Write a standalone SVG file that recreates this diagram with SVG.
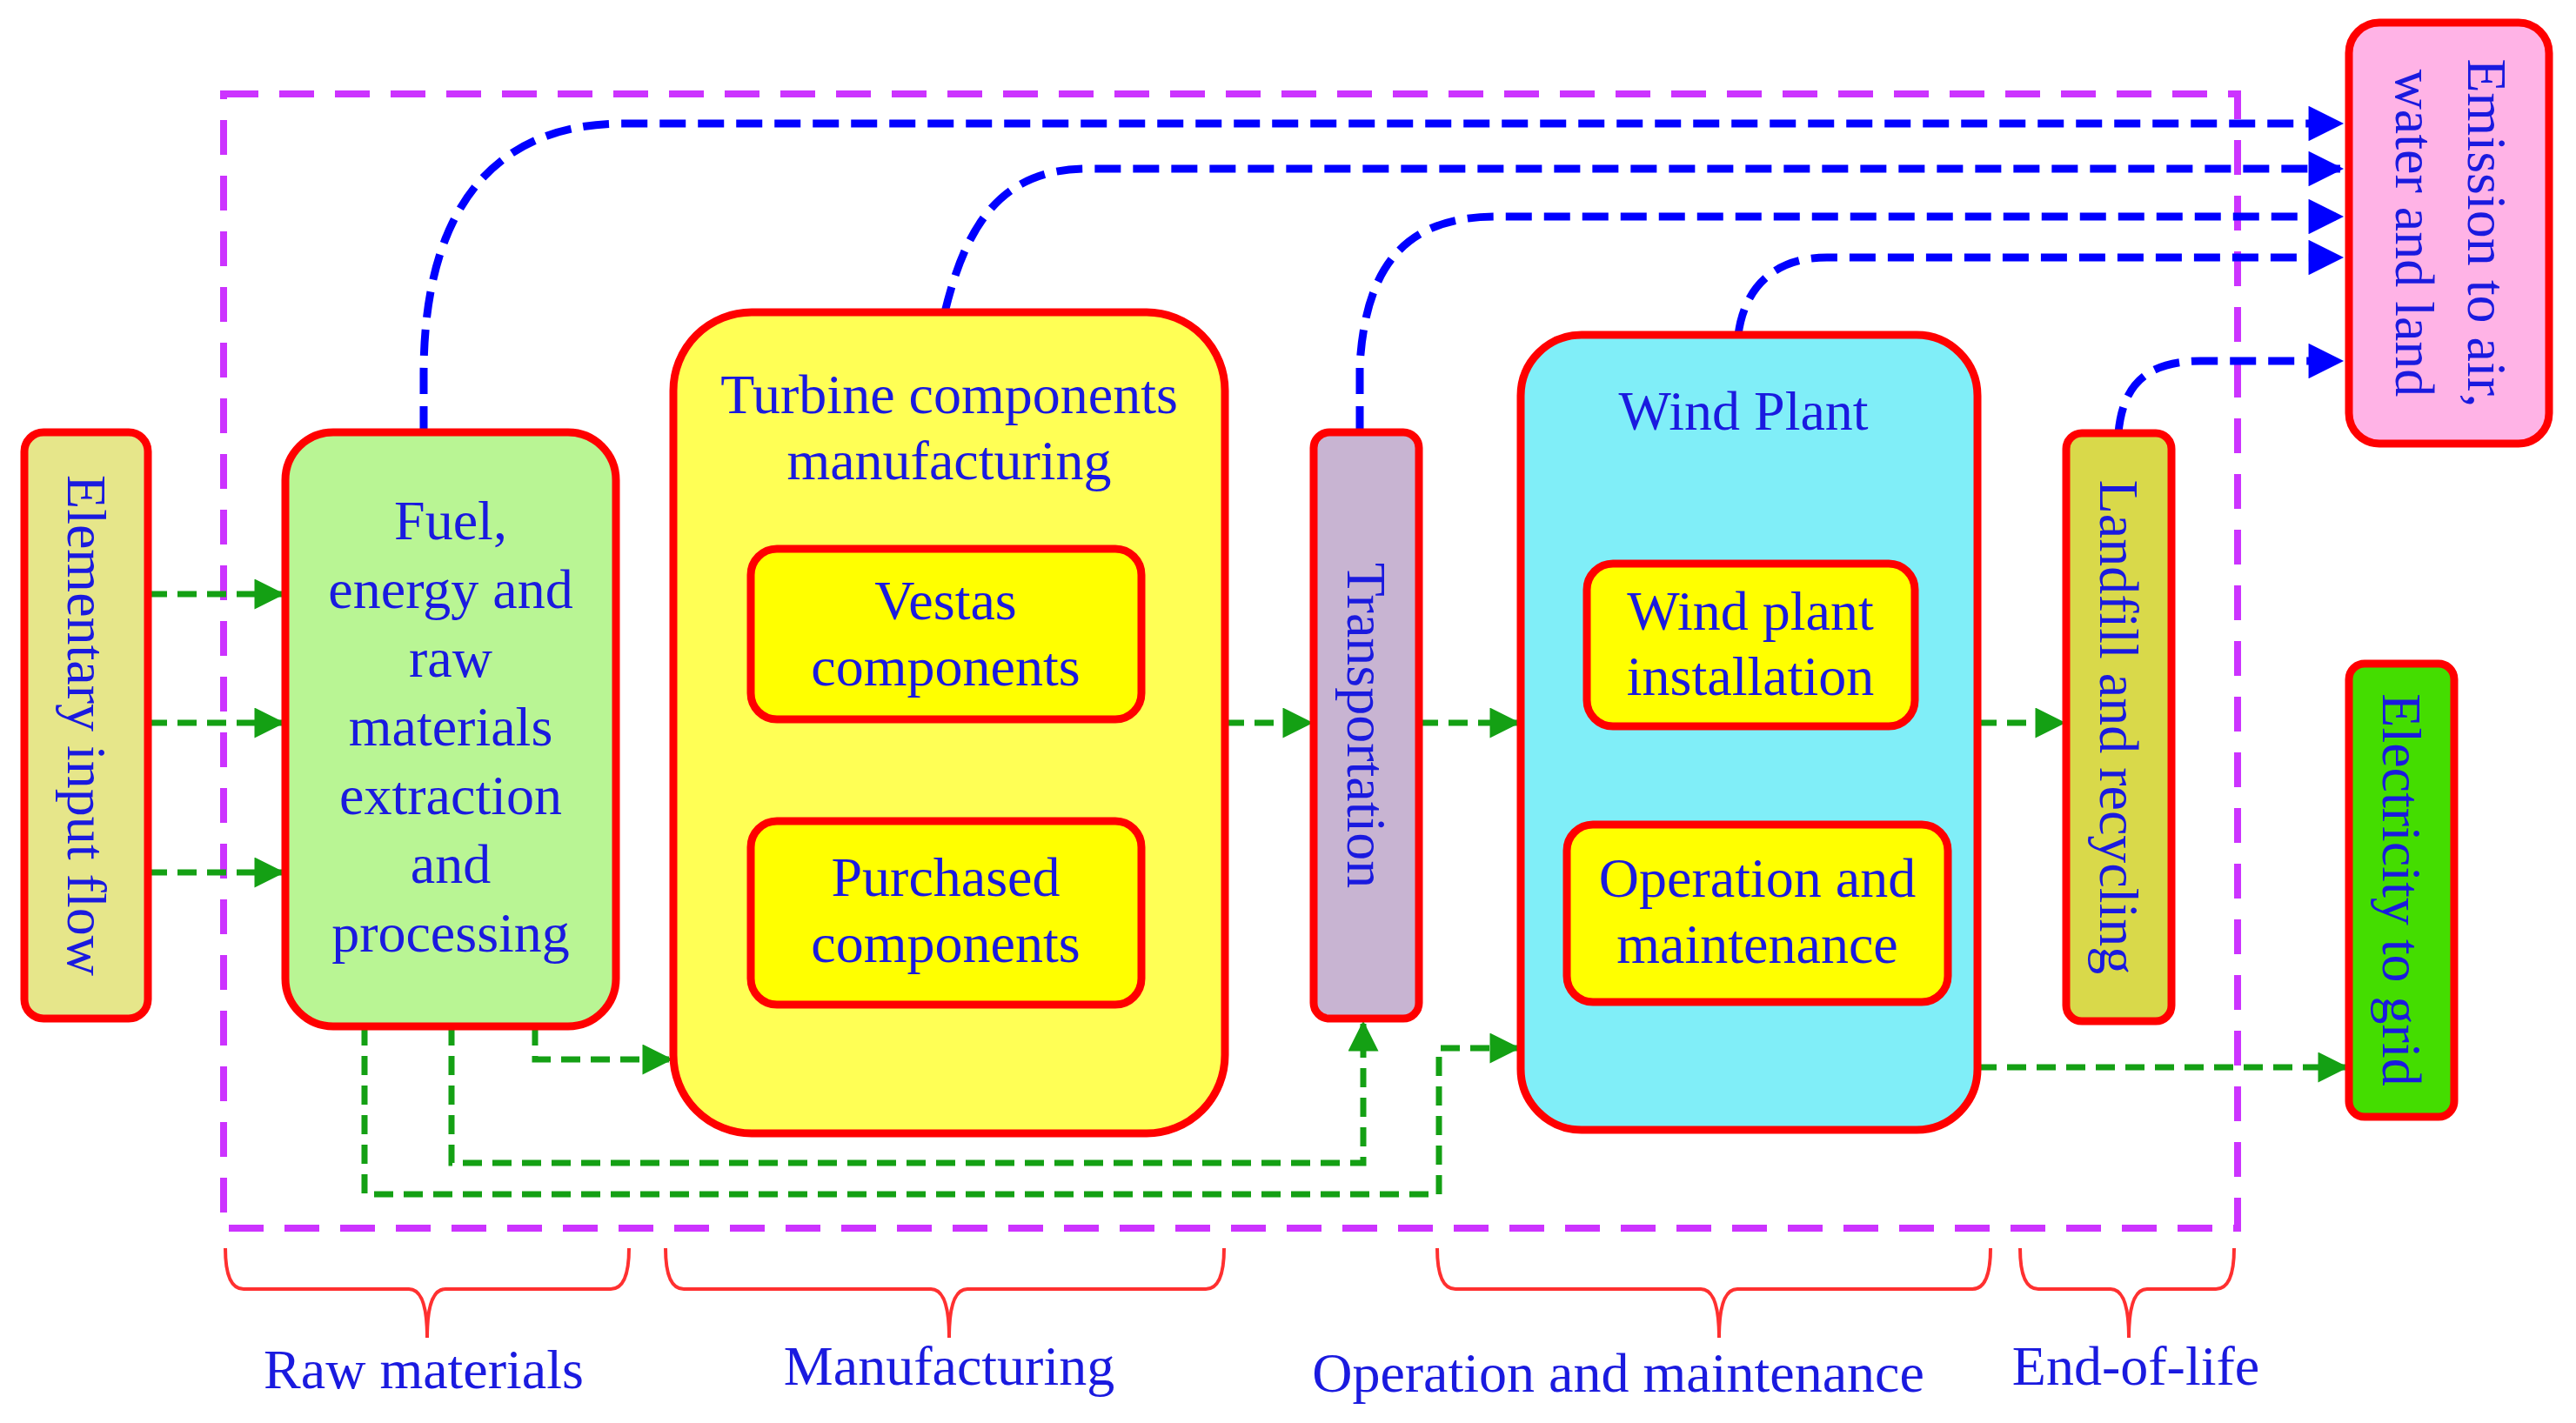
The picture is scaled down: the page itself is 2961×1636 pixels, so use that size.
<svg xmlns="http://www.w3.org/2000/svg" width="2961" height="1636" viewBox="0 0 2961 1636">
<defs>
<style>
.n{stroke:#ff0000;stroke-width:9}
.t{font-family:"Liberation Serif","DejaVu Serif",serif;font-size:64px;fill:#1a1adf;text-anchor:middle}
.b{fill:none;stroke:#0000ff;stroke-width:9;stroke-dasharray:30 14}
.g{fill:none;stroke:#14a014;stroke-width:7;stroke-dasharray:22 12}
.br{fill:none;stroke:#ff3030;stroke-width:4}
</style>
<marker id="ab" viewBox="0 0 10 10" refX="9" refY="5" markerWidth="6" markerHeight="4.5" orient="auto" markerUnits="strokeWidth"><path d="M0,0L10,5L0,10z" fill="#0000ff"/></marker>
<marker id="ag" viewBox="0 0 10 10" refX="9" refY="5" markerWidth="6" markerHeight="5" orient="auto" markerUnits="strokeWidth"><path d="M0,0L10,5L0,10z" fill="#14a014"/></marker>
</defs>
<rect width="2961" height="1636" fill="#fff"/>
<rect x="257" y="108" width="2315" height="1304" fill="none" stroke="#cc33ff" stroke-width="8" stroke-dasharray="40 24"/>
<g id="connectors">
<path class="b" d="M487,497 L487,430 C487,250 560,142 717,142 L2690,142" marker-end="url(#ab)"/>
<path class="b" d="M1086,359 C1110,260 1150,194 1250,194 L2690,194" marker-end="url(#ab)"/>
<path class="b" d="M1563,497 L1563,420 C1570,300 1620,249 1720,249 L2690,249" marker-end="url(#ab)"/>
<path class="b" d="M1998,385 C2005,330 2040,296 2100,296 L2690,296" marker-end="url(#ab)"/>
<path class="b" d="M2435,498 C2440,440 2470,415 2530,415 L2690,415" marker-end="url(#ab)"/>
<path class="g" d="M170,683 L324,683" marker-end="url(#ag)"/>
<path class="g" d="M170,831 L324,831" marker-end="url(#ag)"/>
<path class="g" d="M170,1003 L324,1003" marker-end="url(#ag)"/>
<path class="g" d="M615,1180 L615,1218 L770,1218" marker-end="url(#ag)"/>
<path class="g" d="M519,1180 L519,1337 L1567,1337 L1567,1177" marker-end="url(#ag)"/>
<path class="g" d="M419,1180 L419,1373 L1654,1373 L1654,1205 L1744,1205" marker-end="url(#ag)"/>
<path class="g" d="M1408,831 L1506,831" marker-end="url(#ag)"/>
<path class="g" d="M1631,831 L1744,831" marker-end="url(#ag)"/>
<path class="g" d="M2273,831 L2371,831" marker-end="url(#ag)"/>
<path class="g" d="M2273,1227 L2696,1227" marker-end="url(#ag)"/>
</g>
<g id="elementary"><rect class="n" x="28" y="497" width="142" height="674" rx="22" fill="#e6e68a"/>
<text class="t" transform="translate(99,834) rotate(90)" dy="21">Elementary input flow</text></g>
<g id="fuel"><rect class="n" x="328" y="497" width="380" height="683" rx="55" fill="#b9f594"/>
<text class="t" x="518" y="620">Fuel,</text><text class="t" x="518" y="699">energy and</text><text class="t" x="518" y="778">raw</text><text class="t" x="518" y="857">materials</text><text class="t" x="518" y="936">extraction</text><text class="t" x="518" y="1015">and</text><text class="t" x="518" y="1094">processing</text></g>
<g id="turbine"><rect class="n" x="774" y="359" width="634" height="944" rx="90" fill="#ffff55"/>
<text class="t" x="1091" y="475">Turbine components</text><text class="t" x="1091" y="551">manufacturing</text></g>
<g id="vestas"><rect class="n" x="863" y="631" width="449" height="196" rx="30" fill="#ffff00"/>
<text class="t" x="1087" y="712">Vestas</text><text class="t" x="1087" y="788">components</text></g>
<g id="purchased"><rect class="n" x="863" y="944" width="449" height="211" rx="30" fill="#ffff00"/>
<text class="t" x="1087" y="1030">Purchased</text><text class="t" x="1087" y="1106">components</text></g>
<g id="transportation"><rect class="n" x="1510" y="497" width="121" height="674" rx="18" fill="#c8b4d2"/>
<text class="t" transform="translate(1570,834) rotate(90)" dy="21">Transportation</text></g>
<g id="windplant"><rect class="n" x="1748" y="385" width="525" height="914" rx="70" fill="#80eef8"/>
<text class="t" x="2004" y="494">Wind Plant</text></g>
<g id="installation"><rect class="n" x="1824" y="648" width="377" height="187" rx="30" fill="#ffff00"/>
<text class="t" x="2012" y="724">Wind plant</text><text class="t" x="2012" y="799">installation</text></g>
<g id="om"><rect class="n" x="1801" y="948" width="438" height="204" rx="30" fill="#ffff00"/>
<text class="t" x="2020" y="1031">Operation and</text><text class="t" x="2020" y="1107">maintenance</text></g>
<g id="landfill"><rect class="n" x="2375" y="498" width="121" height="676" rx="18" fill="#d9d94a"/>
<text class="t" transform="translate(2435,836) rotate(90)" dy="21">Landfill and recycling</text></g>
<g id="emission"><rect class="n" x="2700" y="26" width="230" height="484" rx="35" fill="#ffb3e6"/>
<text class="t" transform="translate(2858,268) rotate(90)" dy="21">Emission to air,</text>
<text class="t" transform="translate(2775,268) rotate(90)" dy="21">water and land</text></g>
<g id="electricity"><rect class="n" x="2700" y="763" width="121" height="521" rx="18" fill="#44dd00"/>
<text class="t" transform="translate(2760,1023) rotate(90)" dy="21">Electricity to grid</text></g>
<g id="brackets">
<path class="br" d="M259,1435 Q259,1482 280,1482 L470,1482 Q491,1482 491,1538 Q491,1482 512,1482 L702,1482 Q723,1482 723,1435"/>
<path class="br" d="M765,1435 Q765,1482 786,1482 L1070,1482 Q1091,1482 1091,1538 Q1091,1482 1112,1482 L1386,1482 Q1407,1482 1407,1435"/>
<path class="br" d="M1652,1435 Q1652,1482 1673,1482 L1955,1482 Q1976,1482 1976,1538 Q1976,1482 1997,1482 L2267,1482 Q2288,1482 2288,1435"/>
<path class="br" d="M2322,1435 Q2322,1482 2343,1482 L2426,1482 Q2447,1482 2447,1538 Q2447,1482 2468,1482 L2547,1482 Q2568,1482 2568,1435"/>
<text class="t" x="487" y="1596">Raw materials</text>
<text class="t" x="1091" y="1592">Manufacturing</text>
<text class="t" x="1860" y="1600">Operation and maintenance</text>
<text class="t" x="2455" y="1592">End-of-life</text>
</g>
</svg>
